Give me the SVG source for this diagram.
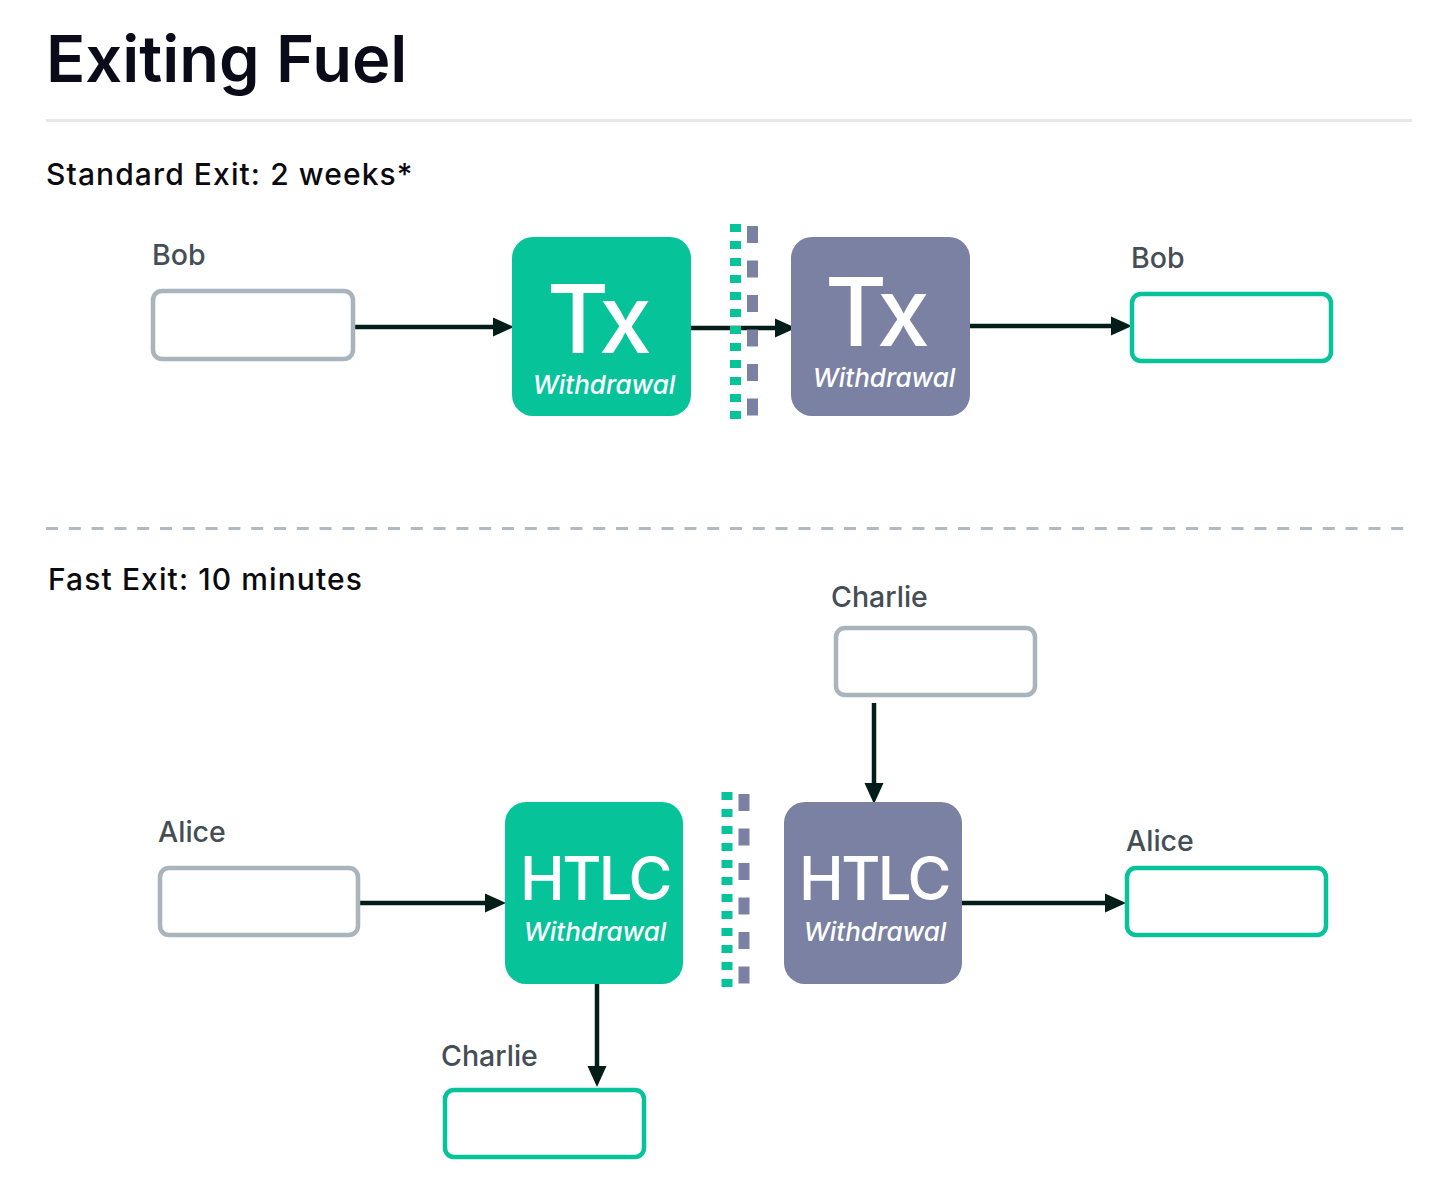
<svg xmlns="http://www.w3.org/2000/svg" width="1452" height="1197" viewBox="0 0 1452 1197">
<defs>
<style>
.title{font-family:Inter,"Liberation Sans",sans-serif;font-weight:600;font-size:65px;fill:#0a0a18}
.head{font-family:Inter,"Liberation Sans",sans-serif;font-weight:500;font-size:30px;letter-spacing:1.1px;fill:#0a0a0f}
.lbl{font-family:Inter,"Liberation Sans",sans-serif;font-weight:500;font-size:28.5px;fill:#454e54}
.big{font-family:Inter,"Liberation Sans",sans-serif;font-weight:500;fill:#ffffff;text-anchor:middle}
.tx{font-size:95px;letter-spacing:-5px}
.htlc{font-size:60px;letter-spacing:-2.5px}
.sub{font-family:Inter,"Liberation Sans",sans-serif;font-weight:500;font-style:italic;font-size:26px;fill:#ffffff;text-anchor:middle}
.src{fill:#ffffff;stroke:#a9b4bd;stroke-width:4.5}
.dst{fill:#ffffff;stroke:#07c39a;stroke-width:4.5}
.l1{fill:#07c39a}
.l2{fill:#7a81a2}
.conn{fill:none;stroke:#031e18;stroke-width:4.5;marker-end:url(#ah)}
.dg{stroke:#07c39a;stroke-width:11;stroke-dasharray:8 9}
.dp{stroke:#7a81a2;stroke-width:11;stroke-dasharray:17 17.5}
</style>
<marker id="ah" markerUnits="userSpaceOnUse" markerWidth="21" markerHeight="20" refX="10" refY="10" orient="auto">
<path d="M0,0.5 L21,10 L0,19.5 Z" fill="#031e18"/>
</marker>
</defs>
<rect width="1452" height="1197" fill="#ffffff"/>

<g id="header">
<text class="title" x="46" y="82">Exiting Fuel</text>
<line x1="46" y1="120.5" x2="1412" y2="120.5" stroke="#e5e7e9" stroke-width="3"/>
<text class="head" x="46" y="185">Standard Exit: 2 weeks*</text>
<line x1="46" y1="528.5" x2="1410" y2="528.5" stroke="#b1bac3" stroke-width="3" stroke-dasharray="12 10.8"/>
<text class="head" x="48" y="590">Fast Exit: 10 minutes</text>
</g>

<g id="connectors">
<path class="conn" d="M355,327 H503"/>
<path class="conn" d="M691,328 H785"/>
<path class="conn" d="M970,326 H1121"/>
<path class="conn" d="M874,703 V793"/>
<path class="conn" d="M360,903 H495"/>
<path class="conn" d="M962,903 H1115"/>
<path class="conn" d="M597,984 V1076"/>
</g>

<g id="std-bob-src">
<text class="lbl" x="152" y="265">Bob</text>
<rect class="src" x="153" y="291" width="200" height="68" rx="9"/>
</g>
<g id="std-tx-l1">
<rect class="l1" x="512" y="237" width="179" height="179" rx="21"/>
<text class="big tx" x="597" y="353">Tx</text>
<text class="sub" x="604" y="394">Withdrawal</text>
</g>
<g id="std-divider">
<line class="dg" x1="735.5" y1="224" x2="735.5" y2="420"/>
<line class="dp" x1="752.5" y1="226" x2="752.5" y2="416"/>
</g>
<g id="std-tx-l2">
<rect class="l2" x="791" y="237" width="179" height="179" rx="21"/>
<text class="big tx" x="875" y="346">Tx</text>
<text class="sub" x="884" y="387">Withdrawal</text>
</g>
<g id="std-bob-dst">
<text class="lbl" x="1131" y="268">Bob</text>
<rect class="dst" x="1132" y="294" width="199" height="67" rx="9"/>
</g>

<g id="fast-charlie-src">
<text class="lbl" x="831" y="607">Charlie</text>
<rect class="src" x="836" y="628" width="199" height="67" rx="9"/>
</g>
<g id="fast-alice-src">
<text class="lbl" x="158" y="842">Alice</text>
<rect class="src" x="160" y="868" width="198" height="67" rx="9"/>
</g>
<g id="fast-htlc-l1">
<rect class="l1" x="505" y="802" width="178" height="182" rx="21"/>
<text class="big htlc" x="595" y="900">HTLC</text>
<text class="sub" x="595" y="941">Withdrawal</text>
</g>
<g id="fast-divider">
<line class="dg" x1="727" y1="792" x2="727" y2="988"/>
<line class="dp" x1="744" y1="794" x2="744" y2="984"/>
</g>
<g id="fast-htlc-l2">
<rect class="l2" x="784" y="802" width="178" height="182" rx="21"/>
<text class="big htlc" x="874" y="900">HTLC</text>
<text class="sub" x="875" y="941">Withdrawal</text>
</g>
<g id="fast-alice-dst">
<text class="lbl" x="1126" y="851">Alice</text>
<rect class="dst" x="1127" y="868" width="199" height="67" rx="9"/>
</g>
<g id="fast-charlie-dst">
<text class="lbl" x="441" y="1066">Charlie</text>
<rect class="dst" x="445" y="1090" width="199" height="67" rx="9"/>
</g>
</svg>
